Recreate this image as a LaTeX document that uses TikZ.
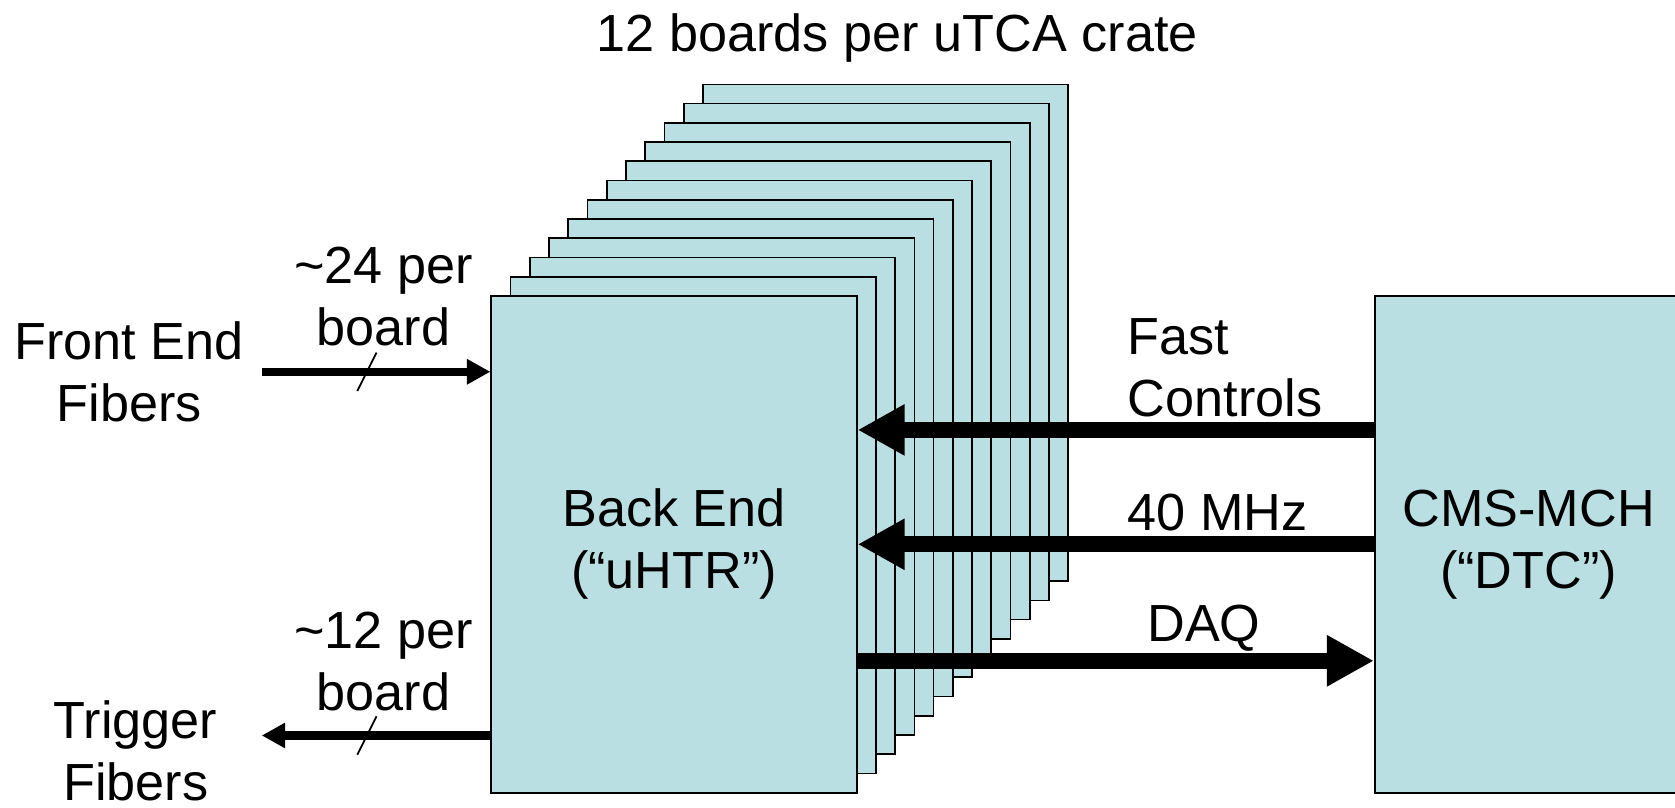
\documentclass[tikz,border=0pt]{standalone}
\usepackage{fontspec}
\setmainfont{Liberation Sans}
\usetikzlibrary{arrows.meta}
\definecolor{boardblue}{RGB}{186,223,227}
\tikzset{
  board/.style={draw=black, fill=boardblue, line width=0.45pt},
  txt/.style={align=center, inner sep=0pt},
  bus/.style={line width=4.2pt, -{Triangle[length=0.44cm,width=0.45cm]}},
  fiber/.style={line width=2.2pt, -{Triangle[length=0.22cm,width=0.225cm]}},
  slashmark/.style={line width=0.5pt},
}
\begin{document}
\begin{tikzpicture}[x=0.01cm, y=-0.01cm, font=\fontsize{13.9}{16.5}\selectfont]
  \useasboundingbox (0,0) rectangle (1568,756);
  \foreach \i in {11,...,1}
    \draw[board] (460+18*\i, 277-18*\i) rectangle ++(342,465);
  \node[board, minimum width=3.42cm, minimum height=4.65cm, align=center] (uhtr) at (631,509.5) {Back End\\(“uHTR”)};
  \node[board, minimum width=2.88cm, minimum height=4.65cm, align=center] (dtc) at (1431,509.5) {CMS-MCH\\(“DTC”)};

  \node[txt, anchor=base] (title) at (840,48) {12 boards per uTCA crate};

  \coordinate (fe) at (245,348);
  \coordinate (tf) at (245,688.5);
  \draw[fiber] (fe) -- (uhtr.west |- fe) coordinate[pos=0.46] (fem);
  \draw[slashmark] ([shift={(-9,18)}]fem) -- ([shift={(9,-18)}]fem);
  \draw[fiber] (uhtr.west |- tf) -- (tf) coordinate[pos=0.54] (tfm);
  \draw[slashmark] ([shift={(-9,18)}]tfm) -- ([shift={(9,-18)}]tfm);
  \node[txt] (fefib) at (121,348) {Front End\\Fibers};
  \node[txt] (fecount) at (359,278) {\textasciitilde24 per\\board};
  \node[txt] (tfib) at (127,703) {Trigger\\Fibers};
  \node[txt] (tfcount) at (359,619) {\textasciitilde12 per\\board};

  \draw[bus] ([yshift=1.07cm]dtc.west) -- ([yshift=1.07cm]uhtr.east);
  \draw[bus] (dtc.west) -- (uhtr.east);
  \draw[bus] ([yshift=-1.09cm]uhtr.east) -- ([yshift=-1.09cm]dtc.west);
  \node[txt, align=left, anchor=west] (fastlbl) at (1055,344) {Fast\\Controls};
  \node[txt] (clklbl) at (1140,480) {40 MHz};
  \node[txt] (daqlbl) at (1127,588) {DAQ};
\end{tikzpicture}
\end{document}
